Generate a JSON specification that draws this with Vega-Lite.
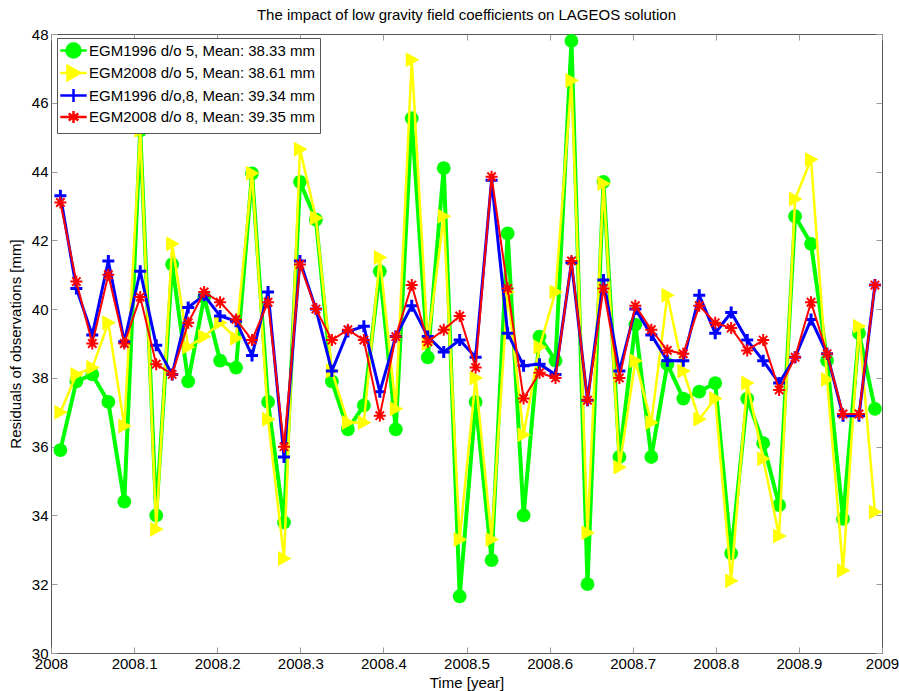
{
  "$schema": "https://vega.github.io/schema/vega-lite/v6.json",
  "width": 831,
  "height": 619,
  "autosize": {"type": "none"},
  "padding": {"left": 51, "top": 34, "right": 17, "bottom": 38},
  "background": "white",
  "title": {"text": "The impact of low gravity field coefficients on LAGEOS solution", "font": "Liberation Sans", "fontSize": 15, "fontWeight": "normal", "color": "#000", "anchor": "middle", "frame": "group", "baseline": "alphabetic", "offset": -8},
  "data": {"values": [
    {"t": 2008.0113, "g": 35.9, "yl": 37.0, "b": 43.3, "r": 43.1},
    {"t": 2008.0305, "g": 37.9, "yl": 38.1, "b": 40.6, "r": 40.8},
    {"t": 2008.0497, "g": 38.1, "yl": 38.3, "b": 39.25, "r": 39.0},
    {"t": 2008.0690, "g": 37.3, "yl": 39.6, "b": 41.4, "r": 41.0},
    {"t": 2008.0882, "g": 34.4, "yl": 36.6, "b": 39.05, "r": 39.0},
    {"t": 2008.1074, "g": 45.2, "yl": 45.2, "b": 41.1, "r": 40.35},
    {"t": 2008.1266, "g": 34.0, "yl": 33.6, "b": 38.95, "r": 38.4},
    {"t": 2008.1458, "g": 41.3, "yl": 41.9, "b": 38.1, "r": 38.1},
    {"t": 2008.1651, "g": 37.9, "yl": 38.9, "b": 40.05, "r": 39.6},
    {"t": 2008.1843, "g": 40.35, "yl": 39.2, "b": 40.4, "r": 40.5},
    {"t": 2008.2035, "g": 38.5, "yl": 39.6, "b": 39.8, "r": 40.2},
    {"t": 2008.2227, "g": 38.3, "yl": 39.15, "b": 39.65, "r": 39.7},
    {"t": 2008.2419, "g": 43.95, "yl": 43.95, "b": 38.65, "r": 39.1},
    {"t": 2008.2612, "g": 37.3, "yl": 36.8, "b": 40.5, "r": 40.2},
    {"t": 2008.2804, "g": 33.8, "yl": 32.75, "b": 35.7, "r": 36.0},
    {"t": 2008.2996, "g": 43.7, "yl": 44.65, "b": 41.4, "r": 41.3},
    {"t": 2008.3188, "g": 42.6, "yl": 42.65, "b": 40.0, "r": 40.0},
    {"t": 2008.3380, "g": 37.9, "yl": 38.2, "b": 38.2, "r": 39.1},
    {"t": 2008.3573, "g": 36.5, "yl": 36.7, "b": 39.35, "r": 39.4},
    {"t": 2008.3765, "g": 37.2, "yl": 36.7, "b": 39.5, "r": 39.1},
    {"t": 2008.3957, "g": 41.1, "yl": 41.5, "b": 37.6, "r": 36.9},
    {"t": 2008.4149, "g": 36.5, "yl": 37.1, "b": 39.2, "r": 39.2},
    {"t": 2008.4341, "g": 45.55, "yl": 47.25, "b": 40.1, "r": 40.7},
    {"t": 2008.4534, "g": 38.6, "yl": 39.0, "b": 39.2, "r": 39.05},
    {"t": 2008.4726, "g": 44.1, "yl": 42.7, "b": 38.75, "r": 39.4},
    {"t": 2008.4918, "g": 31.65, "yl": 33.3, "b": 39.1, "r": 39.8},
    {"t": 2008.5110, "g": 37.3, "yl": 38.0, "b": 38.6, "r": 38.3},
    {"t": 2008.5302, "g": 32.7, "yl": 33.3, "b": 43.75, "r": 43.85},
    {"t": 2008.5495, "g": 42.2, "yl": 40.5, "b": 39.3, "r": 40.6},
    {"t": 2008.5687, "g": 34.0, "yl": 36.35, "b": 38.35, "r": 37.4},
    {"t": 2008.5879, "g": 39.2, "yl": 38.9, "b": 38.4, "r": 38.15},
    {"t": 2008.6071, "g": 38.5, "yl": 40.5, "b": 38.1, "r": 38.0},
    {"t": 2008.6263, "g": 47.8, "yl": 46.65, "b": 41.35, "r": 41.4},
    {"t": 2008.6456, "g": 32.0, "yl": 33.5, "b": 37.35, "r": 37.35},
    {"t": 2008.6648, "g": 43.7, "yl": 43.65, "b": 40.85, "r": 40.6},
    {"t": 2008.6840, "g": 35.7, "yl": 35.4, "b": 38.2, "r": 38.0},
    {"t": 2008.7032, "g": 39.55, "yl": 38.5, "b": 40.0, "r": 40.1},
    {"t": 2008.7224, "g": 35.7, "yl": 36.7, "b": 39.25, "r": 39.4},
    {"t": 2008.7417, "g": 38.4, "yl": 40.4, "b": 38.5, "r": 38.8},
    {"t": 2008.7609, "g": 37.4, "yl": 38.2, "b": 38.5, "r": 38.7},
    {"t": 2008.7801, "g": 37.6, "yl": 36.8, "b": 40.4, "r": 40.1},
    {"t": 2008.7993, "g": 37.85, "yl": 37.4, "b": 39.3, "r": 39.6},
    {"t": 2008.8185, "g": 32.9, "yl": 32.1, "b": 39.9, "r": 39.45},
    {"t": 2008.8378, "g": 37.4, "yl": 37.85, "b": 39.1, "r": 38.8},
    {"t": 2008.8570, "g": 36.1, "yl": 35.65, "b": 38.5, "r": 39.1},
    {"t": 2008.8762, "g": 34.3, "yl": 33.4, "b": 37.85, "r": 37.65},
    {"t": 2008.8954, "g": 42.7, "yl": 43.2, "b": 38.6, "r": 38.6},
    {"t": 2008.9146, "g": 41.9, "yl": 44.35, "b": 39.7, "r": 40.2},
    {"t": 2008.9339, "g": 38.5, "yl": 37.95, "b": 38.7, "r": 38.7},
    {"t": 2008.9531, "g": 33.9, "yl": 32.4, "b": 36.9, "r": 36.95},
    {"t": 2008.9723, "g": 39.3, "yl": 39.5, "b": 36.9, "r": 36.95},
    {"t": 2008.9915, "g": 37.1, "yl": 34.1, "b": 40.7, "r": 40.7}
  ]},
  "resolve": {"axis": {"x": "independent", "y": "independent"}},
  "layer": [
    {
      "mark": {"type": "line", "strokeWidth": 4, "point": {"shape": "circle", "filled": true, "size": 190, "opacity": 1}},
      "encoding": {
        "x": {"field": "t", "type": "quantitative", "scale": {"domain": [2008, 2009], "nice": false, "zero": false},
          "axis": {"orient": "bottom", "title": "Time [year]", "values": [2008, 2008.1, 2008.2, 2008.3, 2008.4, 2008.5, 2008.6, 2008.7, 2008.8, 2008.9, 2009], "format": "~f", "labelPadding": 9, "titlePadding": 4, "labelFlush": false, "labelOverlap": false}},
        "y": {"field": "g", "type": "quantitative", "scale": {"domain": [30, 48], "nice": false, "zero": false},
          "axis": {"orient": "left", "title": "Residuals of observations [mm]", "values": [30, 32, 34, 36, 38, 40, 42, 44, 46, 48], "labelPadding": 9, "titlePadding": 8, "labelFlush": false, "labelOverlap": false}},
        "color": {"datum": "EGM1996 d/o 5, Mean: 38.33 mm",
          "scale": {"domain": ["EGM1996 d/o 5, Mean: 38.33 mm", "EGM2008 d/o 5, Mean: 38.61 mm", "EGM1996 d/o,8, Mean: 39.34 mm", "EGM2008 d/o 8, Mean: 39.35 mm"], "range": ["#00ff00", "#ffff00", "#0000ff", "#ff0000"]},
          "legend": {"title": null, "orient": "none", "legendX": 6, "legendY": 4, "labelFont": "Liberation Sans", "labelFontSize": 15, "labelColor": "#000", "labelLimit": 400, "strokeColor": "#555", "fillColor": "white", "padding": 5, "rowPadding": -2.5, "symbolSize": 144, "symbolStrokeWidth": 2.5, "symbolOffset": 4, "labelOffset": 8, "symbolOpacity": 1,
            "encode": {"symbols": {"update": {
              "shape": {"signal": "['M-2.2,0H2.2M1.17,0A1.17,1.17,0,1,1,-1.17,0A1.17,1.17,0,1,1,1.17,0Z','M-2.2,0H2.2M-1,-1.2L1.1,0L-1,1.2Z','M-2.2,0H2.2M0,-1.1V1.1','M-2.2,0H2.2M0,-1V1M-0.8,-0.6L0.8,0.6M-0.8,0.6L0.8,-0.6'][datum.index]"},
              "fill": {"signal": "['#00ff00','#ffff00','transparent','transparent'][datum.index]"},
              "stroke": {"signal": "['#00ff00','#ffff00','#0000ff','#ff0000'][datum.index]"},
              "opacity": {"value": 1}
            }}}}}
      }
    },
    {
      "mark": {"type": "line", "strokeWidth": 2.5, "point": {"shape": "M-0.8,-1L1,0L-0.8,1Z", "filled": true, "size": 225, "opacity": 1}},
      "encoding": {
        "x": {"field": "t", "type": "quantitative", "axis": null},
        "y": {"field": "yl", "type": "quantitative", "axis": null},
        "color": {"datum": "EGM2008 d/o 5, Mean: 38.61 mm"}
      }
    },
    {
      "mark": {"type": "line", "strokeWidth": 3, "point": {"shape": "M-1,0H1M0,-1V1", "filled": false, "strokeWidth": 3, "size": 144, "opacity": 1}},
      "encoding": {
        "x": {"field": "t", "type": "quantitative", "axis": null},
        "y": {"field": "b", "type": "quantitative", "axis": null},
        "color": {"datum": "EGM1996 d/o,8, Mean: 39.34 mm"}
      }
    },
    {
      "mark": {"type": "line", "strokeWidth": 2, "point": {"shape": "M-1,0H1M0,-1V1M-0.7,-0.7L0.7,0.7M-0.7,0.7L0.7,-0.7", "filled": false, "strokeWidth": 2, "size": 144, "opacity": 1}},
      "encoding": {
        "x": {"field": "t", "type": "quantitative", "axis": null},
        "y": {"field": "r", "type": "quantitative", "axis": null},
        "color": {"datum": "EGM2008 d/o 8, Mean: 39.35 mm"}
      }
    },
    {
      "mark": {"type": "point", "opacity": 0},
      "encoding": {
        "x": {"field": "t", "type": "quantitative", "axis": {"orient": "top", "title": null, "labels": false, "values": [2008, 2008.1, 2008.2, 2008.3, 2008.4, 2008.5, 2008.6, 2008.7, 2008.8, 2008.9, 2009]}},
        "y": {"field": "g", "type": "quantitative", "axis": {"orient": "right", "title": null, "labels": false, "values": [30, 32, 34, 36, 38, 40, 42, 44, 46, 48]}}
      }
    }
  ],
  "config": {
    "view": {"stroke": "#555", "strokeWidth": 1},
    "axis": {"labelFont": "Liberation Sans", "labelFontSize": 15, "labelColor": "#000", "titleFont": "Liberation Sans", "titleFontSize": 15, "titleFontWeight": "normal", "titleColor": "#000", "grid": false, "domain": false, "tickColor": "#999", "tickSize": -6, "tickWidth": 1}
  }
}
